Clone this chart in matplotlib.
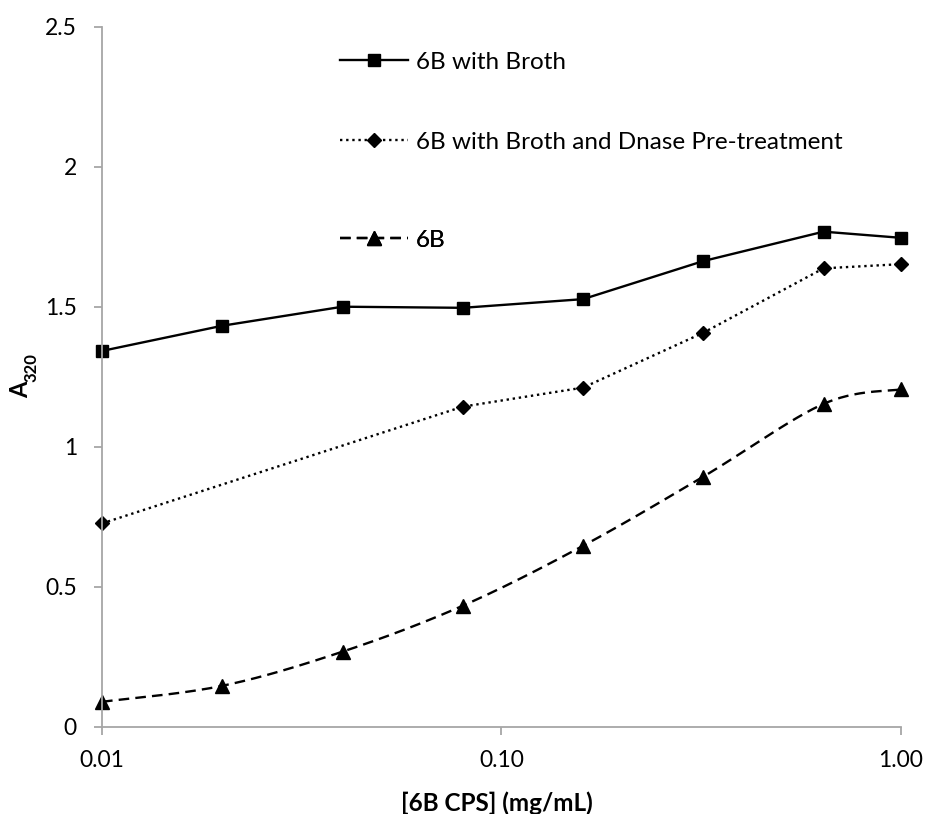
import numpy as np
import matplotlib
matplotlib.use("Agg")
import matplotlib.pyplot as plt
from matplotlib.ticker import FixedLocator, FixedFormatter, NullLocator

plt.rcParams['font.family'] = ['Lato', 'DejaVu Sans']

# concentrations (mg/mL) and absorbance at 320 nm
conc = [0.01, 0.02, 0.04, 0.08, 0.16, 0.32, 0.64, 1.0]
broth = [1.342, 1.432, 1.500, 1.496, 1.527, 1.663, 1.768, 1.746]

conc_dnase = [0.01, 0.08, 0.16, 0.32, 0.64, 1.0]
broth_dnase = [0.726, 1.143, 1.211, 1.407, 1.637, 1.652]

cps_only = [0.089, 0.146, 0.268, 0.432, 0.646, 0.893, 1.153, 1.205]

labels = ["6B with Broth", "6B with Broth and Dnase Pre-treatment", "6B"]
xticks = [0.01, 0.1, 1.0]
xtick_labels = ["0.01", "0.10", "1.00"]
yticks = [0, 0.5, 1, 1.5, 2, 2.5]
ytick_labels = ["0", "0.5", "1", "1.5", "2", "2.5"]


def smooth(x, y, n=30):
    # Catmull-Rom (Bezier style) smoothing in log-x space
    lx = np.log10(np.asarray(x, float))
    y = np.asarray(y, float)
    pts = np.column_stack([lx, y])
    pts = np.vstack([pts[0], pts, pts[-1]])
    out = []
    for i in range(1, len(pts) - 2):
        p0, p1, p2, p3 = pts[i - 1], pts[i], pts[i + 1], pts[i + 2]
        c1 = p1 + (p2 - p0) / 6
        c2 = p2 - (p3 - p1) / 6
        t = np.linspace(0, 1, n)[:, None]
        seg = ((1 - t) ** 3) * p1 + 3 * ((1 - t) ** 2) * t * c1 + 3 * (1 - t) * t ** 2 * c2 + t ** 3 * p2
        out.append(seg if i == 1 else seg[1:])
    out = np.vstack(out)
    return 10 ** out[:, 0], out[:, 1]


W, H = 929, 814
fig = plt.figure(figsize=(W / 100, H / 100), dpi=100)
ax = fig.add_axes([102 / W, 1 - 726.7 / H, 799 / W, 700 / H])

lw = 1.7
dotted = (0, (1, 1.6))
dashed = (0, (4.5, 2.6))
l1, = ax.plot(conc, broth, color='black', lw=lw, marker='s', ms=8, clip_on=False)
l2, = ax.plot(conc_dnase, broth_dnase, color='black', lw=lw, ls=dotted, marker='D', ms=7.5, clip_on=False)

sx, sy = smooth(conc, cps_only)
ax.plot(sx, sy, color='black', lw=lw, ls=dashed, clip_on=False)
ax.plot(conc, cps_only, color='black', lw=0, marker='^', ms=10, clip_on=False)
# legend handle for the smoothed series
l3, = ax.plot([], [], color='black', lw=lw, ls=dashed, marker='^', ms=10)

ax.set_xscale('log')
ax.set_xlim(0.01, 1.0)
ax.set_ylim(0, 2.5)
ax.xaxis.set_major_locator(FixedLocator(xticks))
ax.xaxis.set_major_formatter(FixedFormatter(xtick_labels))
ax.xaxis.set_minor_locator(NullLocator())
ax.set_yticks(yticks)
ax.set_yticklabels(ytick_labels)

for side in ['top', 'right']:
    ax.spines[side].set_visible(False)
for side in ['left', 'bottom']:
    ax.spines[side].set_color('#a6a6a6')
    ax.spines[side].set_linewidth(1.3)
ax.tick_params(axis='both', direction='out', length=6, width=1.3, color='#a6a6a6', labelsize=16.5)
ax.tick_params(axis='x', pad=11)
ax.tick_params(axis='y', pad=12)

ax.set_xlabel("[6B CPS] (mg/mL)", fontsize=17.5, fontweight='bold')
ax.xaxis.set_label_coords(0.494, -0.109)
ax.xaxis.label.set_va('center')

# y label: A with subscript 320, both bold
fig.text(20.5 / W, 1 - 390 / H, "A", rotation=90, fontsize=17, fontweight='bold', ha='center', va='center')
fig.text(31.5 / W, 1 - 367.5 / H, "320", rotation=90, fontsize=12, fontweight='bold', ha='center', va='center')

# one legend per entry so the row spacing can follow the layout
rows = [62, 142, 240]
for handle, label, ry in zip([l1, l2, l3], labels, rows):
    leg = ax.legend([handle], [label], loc='center left', bbox_to_anchor=(340 / W, 1 - ry / H),
                    bbox_transform=fig.transFigure, frameon=False, fontsize=17.5,
                    handlelength=2.8, handletextpad=0.33, borderpad=0, borderaxespad=0)
    ax.add_artist(leg)

fig.savefig("out.png", dpi=100)
